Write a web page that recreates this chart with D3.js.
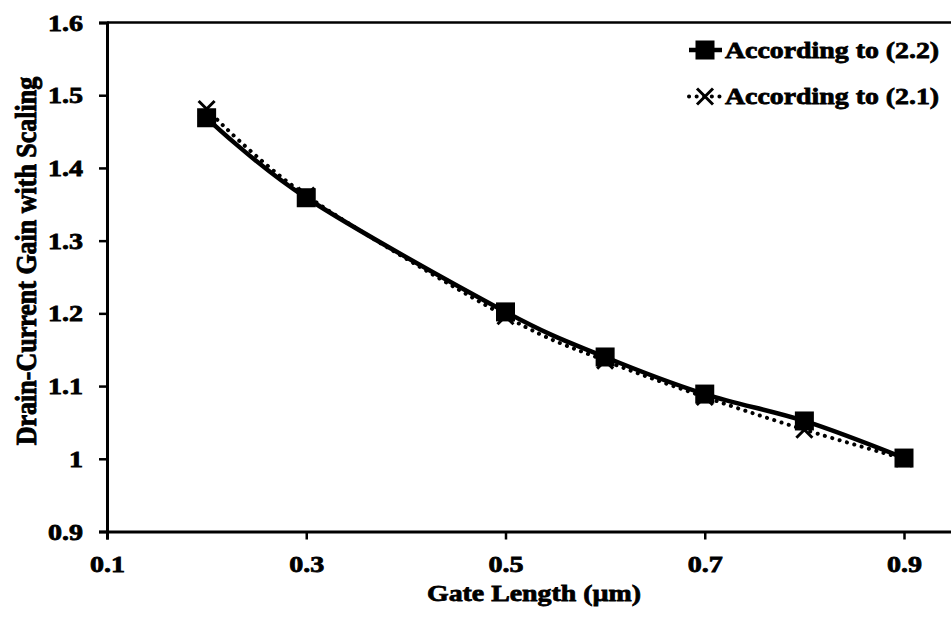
<!DOCTYPE html>
<html>
<head>
<meta charset="utf-8">
<script src="https://cdn.jsdelivr.net/npm/d3@7"></script>
<style>
  html, body { margin: 0; padding: 0; background: #fff; }
  svg { display: block; }
  text { font-family: "Liberation Serif", "Times New Roman", serif; font-weight: bold; fill: #000;
         stroke: #000; stroke-width: 0.8px; paint-order: stroke; }
</style>
</head>
<body>
<svg id="chart" width="951" height="622"></svg>
<script>
// Gate length (µm) and drain-current gain for the two expressions
const gateLength = [0.2, 0.3, 0.5, 0.6, 0.7, 0.8, 0.9];
const gainEq22 = [1.469, 1.359, 1.202, 1.140, 1.089, 1.052, 1.001];
const gainEq21 = [1.481, 1.362, 1.196, 1.135, 1.085, 1.040, 1.000];
const seriesNames = ["According to (2.2)", "According to (2.1)"];

const xTickValues = [0.1, 0.3, 0.5, 0.7, 0.9];
const xTickLabels = ["0.1", "0.3", "0.5", "0.7", "0.9"];
const yTickValues = [0.9, 1.0, 1.1, 1.2, 1.3, 1.4, 1.5, 1.6];
const yTickLabels = ["0.9", "1", "1.1", "1.2", "1.3", "1.4", "1.5", "1.6"];

const xTitle = "Gate Length (µm)";
const yTitle = "Drain-Current Gain with Scaling";

const svg = d3.select("#chart");
const plotLeft = 107, plotTop = 22.5, plotBottom = 531.5;
const unitPx = 996.25;             // pixels per µm along x
const stretch = 1.16;              // horizontal widening of the lettering
const tickStretch = 1.22;

const x = d3.scaleLinear().domain([0.1, 1.0]).range([plotLeft, plotLeft + 0.9 * unitPx]);
const y = d3.scaleLinear().domain([0.9, 1.6]).range([plotBottom, plotTop]);

// plot-area top border
svg.append("line")
  .attr("x1", plotLeft).attr("x2", 951)
  .attr("y1", plotTop).attr("y2", plotTop)
  .attr("stroke", "#000").attr("stroke-width", 2.5);

// x axis
const xAxis = svg.append("g")
  .attr("transform", `translate(0,${plotBottom})`)
  .call(d3.axisBottom(x).tickValues(xTickValues)
    .tickFormat((d, i) => xTickLabels[i]).tickSizeOuter(0).tickSize(8).tickPadding(0));
xAxis.select(".domain").attr("stroke-width", 3);
xAxis.selectAll(".tick line").attr("stroke-width", 2.5);
xAxis.selectAll(".tick text")
  .attr("font-size", 23).attr("dy", null).attr("y", 41)
  .attr("transform", `scale(${tickStretch},1)`)
  .attr("x", 0);

// y axis
const yAxis = svg.append("g")
  .attr("transform", `translate(${plotLeft},0)`)
  .call(d3.axisLeft(y).tickValues(yTickValues)
    .tickFormat((d, i) => yTickLabels[i]).tickSizeOuter(0).tickSize(8));
yAxis.select(".domain").attr("stroke-width", 3);
yAxis.selectAll(".tick line").attr("stroke-width", 2.5);
yAxis.selectAll(".tick text")
  .attr("font-size", 23).attr("dy", "0.33em")
  .attr("x", -24 / tickStretch)
  .attr("transform", `scale(${tickStretch},1)`);

// axis titles
svg.append("text")
  .attr("transform", `translate(${(plotLeft + 951) / 2 + 5},601) scale(${stretch},1)`)
  .attr("text-anchor", "middle").attr("font-size", 24)
  .text(xTitle);

// rotated title: glyph heights run horizontally, so they take the widening
svg.append("text")
  .attr("transform", `translate(36,261) rotate(-90) scale(1,${stretch})`)
  .attr("text-anchor", "middle").attr("font-size", 26)
  .text(yTitle);

// smoothed curves
const line = d3.line()
  .x((d, i) => x(gateLength[i]))
  .y(d => y(d))
  .curve(d3.curveCatmullRom.alpha(0));

const plot = svg.append("g");

plot.append("path")
  .datum(gainEq21)
  .attr("d", line)
  .attr("fill", "none").attr("stroke", "#000")
  .attr("stroke-width", 4).attr("stroke-linecap", "round")
  .attr("stroke-dasharray", "0.1 7.5");

plot.append("path")
  .datum(gainEq22)
  .attr("d", line)
  .attr("fill", "none").attr("stroke", "#000")
  .attr("stroke-width", 4.5);

// X markers for (2.1)
const xMark = 8;
function drawCross(g, cx, cy) {
  g.append("path")
    .attr("d", `M${cx - xMark},${cy - xMark}L${cx + xMark},${cy + xMark}M${cx - xMark},${cy + xMark}L${cx + xMark},${cy - xMark}`)
    .attr("stroke", "#000").attr("stroke-width", 3).attr("fill", "none");
}
gainEq21.forEach((v, i) => drawCross(plot, x(gateLength[i]), y(v)));

// square markers for (2.2)
const sq = 19;
plot.selectAll("rect.sq")
  .data(gainEq22)
  .join("rect")
  .attr("class", "sq")
  .attr("x", (d, i) => x(gateLength[i]) - sq / 2)
  .attr("y", d => y(d) - sq / 2)
  .attr("width", sq).attr("height", sq)
  .attr("fill", "#000");

// legend
const legend = svg.append("g");
const lx1 = 689, lx2 = 722, lmx = 705;
const rows = [50, 96.5];

legend.append("line")
  .attr("x1", lx1).attr("x2", lx2).attr("y1", rows[0]).attr("y2", rows[0])
  .attr("stroke", "#000").attr("stroke-width", 4.5);
legend.append("rect")
  .attr("x", lmx - sq / 2).attr("y", rows[0] - sq / 2)
  .attr("width", sq).attr("height", sq).attr("fill", "#000");

legend.append("line")
  .attr("x1", lx1).attr("x2", lx2).attr("y1", rows[1]).attr("y2", rows[1])
  .attr("stroke", "#000").attr("stroke-width", 4).attr("stroke-linecap", "round")
  .attr("stroke-dasharray", "0.1 7.5");
drawCross(legend, lmx, rows[1]);

seriesNames.forEach((name, i) => {
  legend.append("text")
    .attr("transform", `translate(725,${rows[i] + 7.5}) scale(${stretch},1)`)
    .attr("font-size", 24)
    .text(name);
});
</script>
</body>
</html>
